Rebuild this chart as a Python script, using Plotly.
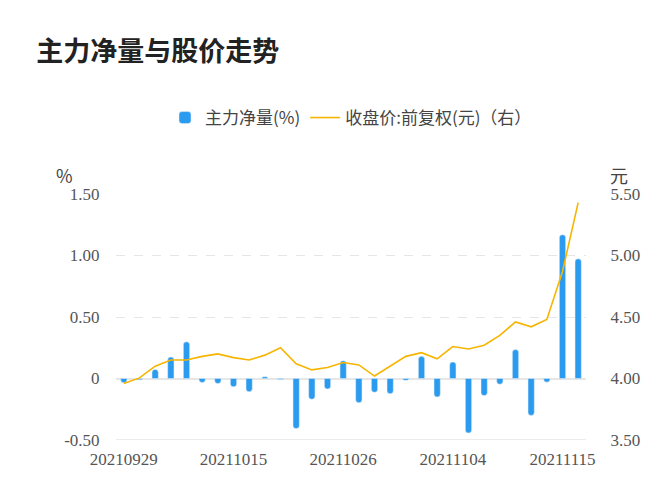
import plotly.graph_objects as go

dates = ["20210929","20210930","20211008","20211011","20211012","20211013","20211014","20211015",
         "20211018","20211019","20211020","20211021","20211022","20211025","20211026","20211027",
         "20211028","20211029","20211101","20211102","20211103","20211104","20211105","20211108",
         "20211109","20211110","20211111","20211112","20211115","20211116"]
net_flow = [-0.035,-0.01,0.074,0.175,0.298,-0.033,-0.041,-0.068,-0.107,0.014,-0.008,-0.407,-0.169,-0.085,
            0.145,-0.197,-0.112,-0.123,-0.014,0.18,-0.15,0.134,-0.443,-0.139,-0.046,0.235,-0.30,-0.03,1.169,0.973]
price = [3.96,4.005,4.10,4.15,4.15,4.18,4.20,4.17,4.15,4.19,4.25,4.12,4.07,4.09,4.13,4.11,4.02,4.10,
         4.18,4.21,4.16,4.26,4.24,4.27,4.35,4.46,4.42,4.48,4.87,5.43]
tick_dates = ["20210929","20211015","20211026","20211104","20211115"]
left_ticks = [-0.5,0,0.5,1.0,1.5]
left_labels = ["-0.50","0","0.50","1.00","1.50"]
right_ticks = [3.5,4.0,4.5,5.0,5.5]
right_labels = ["3.50","4.00","4.50","5.00","5.50"]

L, R, T, B = 108, 94, 186, 68
pw, ph = 672 - L - R, 500 - T - B

def px(x):
    return (x - L) / pw

def py(y):
    return (500 - B - y) / ph

fig = go.Figure()
fig.add_bar(x=dates, y=net_flow, name="主力净量(%)", marker=dict(color="#2b9bef", cornerradius=3),
            width=0.4)
fig.add_scatter(x=dates, y=price, name="收盘价:前复权(元)（右）", mode="lines",
                line=dict(color="#f7b500", width=1.6), yaxis="y2")

serif = "Liberation Serif"
fig.update_layout(
    width=672, height=500, plot_bgcolor="white", paper_bgcolor="white",
    margin=dict(l=L, r=R, t=T, b=B, autoexpand=False),
    font=dict(family="Noto Sans CJK SC", color="#333"),
    title=dict(text="<b>主力净量与股价走势</b>", x=0.042, xanchor="left", y=0.912, yanchor="middle",
               font=dict(size=27, color="#222")),
    legend=dict(orientation="h", x=0.5, xanchor="center", y=py(110), yanchor="middle",
                font=dict(size=17, color="#444")),
    showlegend=True,
    xaxis=dict(type="category", range=[-0.5, 29.5], tickvals=tick_dates, ticktext=tick_dates,
               showgrid=False, showline=False, ticks="outside", ticklen=4, tickcolor="white",
               tickfont=dict(family=serif, size=17, color="#555")),
    yaxis=dict(range=[-0.5, 1.5], tickvals=left_ticks, ticktext=left_labels, showgrid=True,
               gridcolor="#e6e6e6", griddash="dash", zeroline=True, zerolinecolor="#e6e6e6",
               tickfont=dict(family=serif, size=17, color="#555"), ticks="outside",
               ticklen=12, tickcolor="white"),
    yaxis2=dict(range=[3.5, 5.5], tickvals=right_ticks, ticktext=right_labels, overlaying="y",
                side="right", showgrid=False, zeroline=False,
                tickfont=dict(family=serif, size=17, color="#555"), ticks="outside",
                ticklen=20, tickcolor="white"),
    annotations=[
        dict(text="%", x=px(46), y=py(152), xref="paper", yref="paper", showarrow=False,
             font=dict(size=18, color="#444")),
        dict(text="元", x=px(622), y=py(152), xref="paper", yref="paper", showarrow=False,
             font=dict(size=18, color="#444")),
    ],
)
fig.add_shape(type="line", xref="paper", yref="y", x0=0, x1=1, y0=-0.5, y1=-0.5,
              line=dict(color="#e6e6e6", width=1.5))
fig.write_html("out.html")
